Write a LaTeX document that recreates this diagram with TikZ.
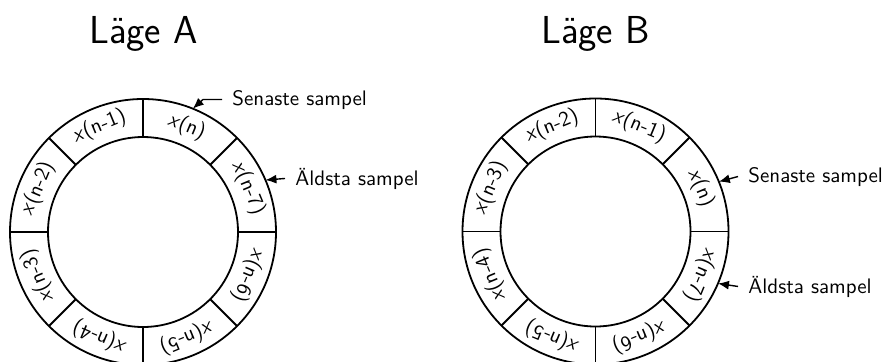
\documentclass[tikz,border=0pt]{standalone}
\usetikzlibrary{arrows.meta}
\begin{document}
\begin{tikzpicture}[x=1pt,y=1pt,
  ringline/.style={line width=0.9pt},
  seglabel/.style={font=\fontsize{10.5}{12}\selectfont\sffamily, inner sep=0pt},
  titletext/.style={font=\fontsize{19.5}{23}\selectfont\sffamily, anchor=base, inner sep=0pt},
  note/.style={font=\fontsize{10.5}{12}\selectfont\sffamily, anchor=base west, inner xsep=5pt, inner ysep=0pt},
  ptr/.style={line width=0.7pt, -{Latex[length=5.5pt,width=4.5pt]}}]
\useasboundingbox (0,0) rectangle (441.5,180.5);

% titles
\node[titletext] (tA) at (71.75,159) {Läge A};
\node[titletext] (tB) at (297.75,159) {Läge B};

% ring A
\begin{scope}[shift={(71.5,64.5)}]
  \draw[ringline] (0,0) circle (66.5);
  \draw[ringline] (0,0) circle (47.5);
  \foreach \a in {0,45,...,315}
    \draw[ringline] (\a:47.5) -- (\a:66.5);
  \foreach \a/\t [count=\i] in {67.5/n,112.5/n-1,157.5/n-2,202.5/n-3,247.5/n-4,292.5/n-5,337.5/n-6,22.5/n-7}
    \node[seglabel, rotate=\a-90] (lA\i) at (\a:57) {\textit{x}(\t)};
  \coordinate (pAs) at (68:66.5);
  \coordinate (pAo) at (23:66.5);
\end{scope}

% ring B
\begin{scope}[shift={(297.75,64.75)}]
  \draw[ringline] (0,0) circle (66.5);
  \draw[ringline] (0,0) circle (47.5);
  \foreach \a in {0,45,...,315}
    \draw[ringline] (\a:47.5) -- (\a:66.5);
  \foreach \a/\t [count=\i] in {22.5/n,67.5/n-1,112.5/n-2,157.5/n-3,202.5/n-4,247.5/n-5,292.5/n-6,337.5/n-7}
    \node[seglabel, rotate=\a-90] (lB\i) at (\a:57) {\textit{x}(\t)};
  \coordinate (pBs) at (22:66.5);
  \coordinate (pBo) at (-23:66.5);
\end{scope}

% notes
\node[note] (nAs) at (111,128) {Senaste sampel};
\node[note] (nAo) at (142.5,88) {Äldsta sampel};
\node[note] (nBs) at (369,89.5) {Senaste sampel};
\node[note] (nBo) at (369,34) {Äldsta sampel};

\draw[ptr] (nAs.west) -- ++(-9.5,0) -- (pAs);
\draw[ptr] (nAo.west) -- (pAo);
\draw[ptr] (nBs.west) -- (pBs);
\draw[ptr] (nBo.west) -- (pBo);
\end{tikzpicture}
\end{document}
